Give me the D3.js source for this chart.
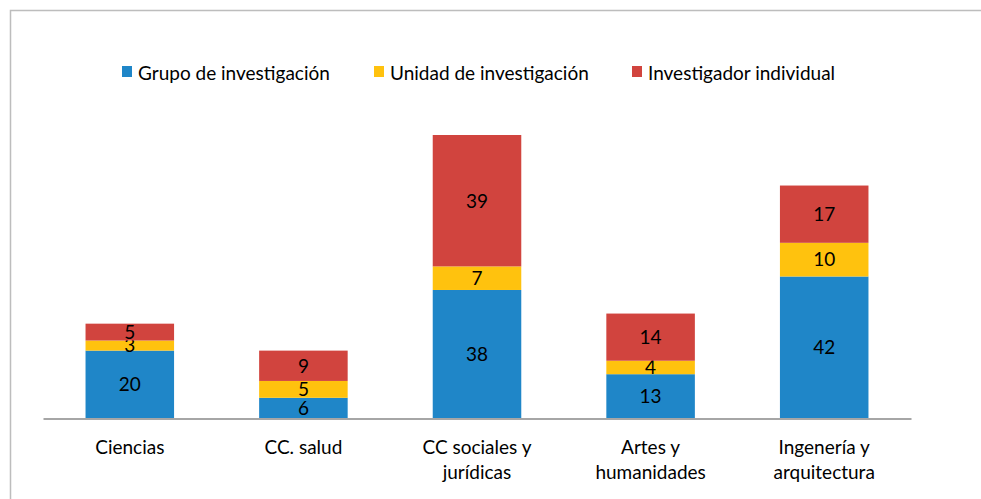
<!DOCTYPE html>
<html>
<head>
<meta charset="utf-8">
<script src="https://cdn.jsdelivr.net/npm/d3@7"></script>
<style>
  body { margin: 0; background: #fff; }
  text { font-family: Lato, "Open Sans", sans-serif; }
</style>
</head>
<body>
<svg width="981" height="499"></svg>
<script>
var categories = [["Ciencias"], ["CC. salud"], ["CC sociales y", "jurídicas"], ["Artes y", "humanidades"], ["Ingenería y", "arquitectura"]];
var series = ["Grupo de investigación", "Unidad de investigación", "Investigador individual"];
var grupo = [20, 6, 38, 13, 42];
var unidad = [3, 5, 7, 4, 10];
var individual = [5, 9, 39, 14, 17];
var colors = ["#1f86c8", "#ffc20e", "#d1443e"];

var rows = categories.map(function(c, i) {
  return { key: i, grupo: grupo[i], unidad: unidad[i], individual: individual[i] };
});

var svg = d3.select("svg");

// chart frame
svg.append("path")
  .attr("d", "M10.5,499 V10.5 H981")
  .attr("fill", "none")
  .attr("stroke", "#bdbdbd")
  .attr("stroke-width", 1.5);

var x = d3.scaleBand().domain(d3.range(categories.length)).range([43, 911]).paddingInner(0.49).paddingOuter(0.245);
var y = d3.scaleLinear().domain([0, 84]).range([418, 135]);

var stack = d3.stack().keys(["grupo", "unidad", "individual"]);
var layers = stack(rows);

var g = svg.append("g");
layers.forEach(function(layer, k) {
  g.selectAll(null)
    .data(layer)
    .enter().append("rect")
    .attr("x", function(d, i) { return x(i); })
    .attr("y", function(d) { return y(d[1]); })
    .attr("width", x.bandwidth())
    .attr("height", function(d) { return y(d[0]) - y(d[1]); })
    .attr("fill", colors[k]);

  g.selectAll(null)
    .data(layer)
    .enter().append("text")
    .attr("x", function(d, i) { return x(i) + x.bandwidth() / 2; })
    .attr("y", function(d) { return (y(d[0]) + y(d[1])) / 2; })
    .attr("dy", "0.36em")
    .attr("text-anchor", "middle")
    .attr("font-size", 19)
    .attr("fill", "#000")
    .text(function(d) { return d[1] - d[0]; });
});

// axis
var axis = svg.append("g")
  .attr("transform", "translate(0,418.5)")
  .call(d3.axisBottom(x).tickSize(0).tickFormat(""));
axis.select(".domain").attr("stroke", "#a6a6a6").attr("stroke-width", 2);

var labels = svg.append("g");
categories.forEach(function(lines, i) {
  var t = labels.append("text")
    .attr("text-anchor", "middle")
    .attr("font-size", 19)
    .attr("fill", "#000");
  lines.forEach(function(line, j) {
    t.append("tspan")
      .attr("x", x(i) + x.bandwidth() / 2)
      .attr("y", 454 + j * 25)
      .text(line);
  });
});

// legend
var legendX = [122, 374, 632];
var legend = svg.append("g");
series.forEach(function(s, i) {
  legend.append("rect")
    .attr("x", legendX[i])
    .attr("y", 66)
    .attr("width", 10)
    .attr("height", 11)
    .attr("fill", colors[i]);
  legend.append("text")
    .attr("x", legendX[i] + 16)
    .attr("y", 80)
    .attr("font-size", 19)
    .attr("fill", "#000")
    .text(s);
});
</script>
</body>
</html>
